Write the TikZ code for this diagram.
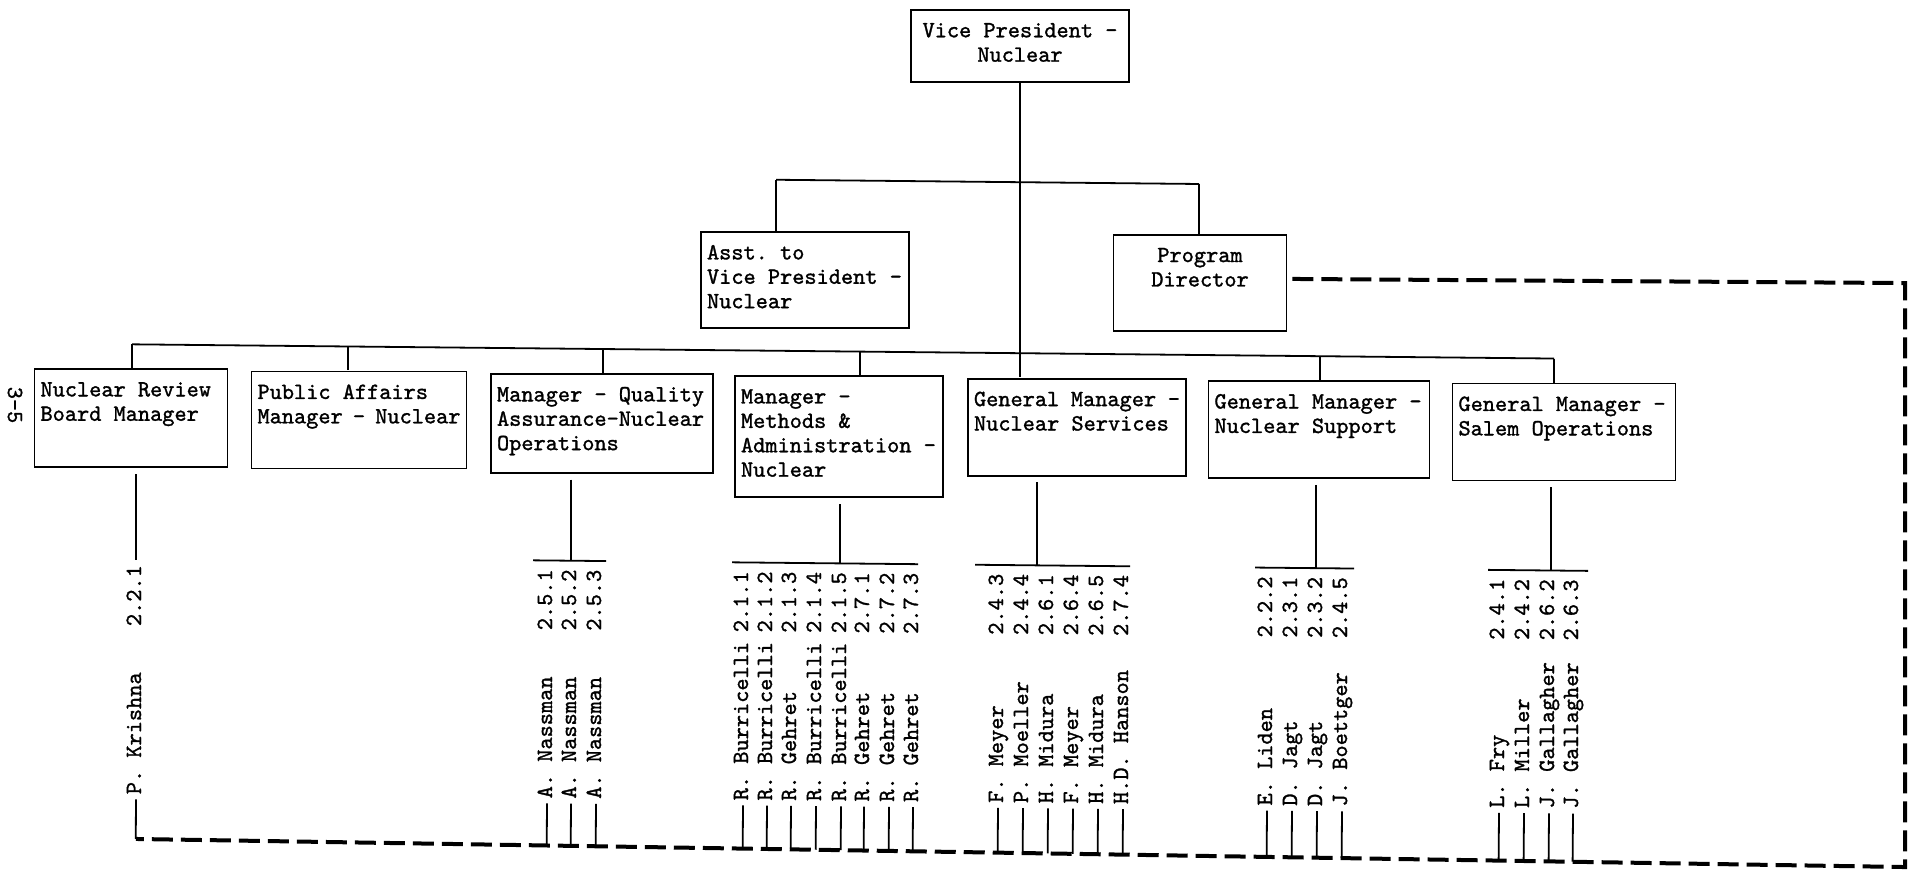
\documentclass[tikz,border=0pt]{standalone}
\usepackage{fontspec}
\usepackage{tikz}
\usetikzlibrary{positioning, calc}

\newfontfamily\typer{lmmono10-regular}[Extension=.otf, RawFeature={embolden=1.3}]
\def\unitfont{\fontsize{23.2}{24.4}\selectfont\typer}
\def\namelen{229pt}

\tikzset{
    unit/.style n args={3}{draw, line width=1.8pt, anchor=north,
        inner xsep=6pt, inner ysep=13pt, font=\unitfont,
        execute at begin node={\begin{minipage}[t][\dimexpr#2-26pt\relax][t]{\dimexpr#1-12pt\relax}#3},
        execute at end node={\end{minipage}}},
    entry/.style={rotate=90, anchor=west, inner xsep=5pt, inner ysep=0pt,
        text height=14pt, text depth=4pt, font=\unitfont},
    link/.style={line width=1.8pt},
    feed/.style={line width=4pt, dash pattern=on 21pt off 8pt},
}

\begin{document}
\begin{tikzpicture}[x=1pt, y=-1pt]
    \useasboundingbox (0,0) rectangle (1911,870);

    \node[font=\unitfont, rotate=-90, inner sep=0pt] (pg) at (15,405) {3-5};

    % the sheet is scanned a little askew
    \begin{scope}[yslant=-0.01]

    % top of the chart
    \node[unit={218pt}{72pt}{\centering}] (vp) at (1020,-1) {Vice~President~-\\Nuclear};
    \node[unit={208pt}{96pt}{\raggedright}] (asst) at (805,223) {Asst.~to\\Vice~President~-\\Nuclear};
    \node[unit={173pt}{96pt}{\centering}] (prog) at (1200,222) {Program\\Director};

    % second row
    \node[unit={193pt}{98pt}{\raggedright}] (nrb) at (131,367) {Nuclear~Review\\Board~Manager};
    \node[unit={215pt}{97pt}{\raggedright}] (pub) at (359,367) {Public~Affairs\\Manager~-~Nuclear};
    \node[unit={222pt}{99pt}{\raggedright}] (qa) at (602,367) {Manager~-~Quality\\Assurance-Nuclear\\Operations};
    \node[unit={208pt}{121pt}{\raggedright}] (meth) at (839,367) {Manager~-\\Methods~\&\\Administration~-\\Nuclear};
    \node[unit={218pt}{97pt}{\raggedright}] (nsv) at (1077,367) {General~Manager~-\\Nuclear~Services};
    \node[unit={221pt}{97pt}{\raggedright}] (nsp) at (1319,367) {General~Manager~-\\Nuclear~Support};
    \node[unit={223pt}{97pt}{\raggedright}] (sal) at (1564,367) {General~Manager~-\\Salem~Operations};

    % connections from the top
    \draw[link] (vp.south) -- (vp.south |- nsv.north);

    \coordinate (al) at (776,172);
    \coordinate (ar) at (1199,172);
    \draw[link] (al) -- (ar);
    \draw[link] (al) -- (al |- asst.north);
    \draw[link] (ar) -- (ar |- prog.north);

    \coordinate (bl) at (132,343);
    \coordinate (br) at (1554,343);
    \draw[link] (bl) -- (br);
    \foreach \b/\x in {nrb/132, pub/348, qa/603, meth/860, nsp/1320, sal/1554}
    {
        \coordinate (d\b) at (\x,343);
        \draw[link] (d\b) -- (d\b |- \b.north);
    }

    % dashed frame
    \coordinate (ne) at (1905,264);
    \coordinate (se) at (1905,848);
    \coordinate (sw) at (136,837.6);
    \draw[feed] ([shift={(5,-4)}]prog.east) -- (ne) -- (se) -- (sw);

    % brackets under the boxes
    \foreach \b/\x/\l/\r in {qa/571/533/606, meth/840/732/918, nsv/1037/975/1130,
                             nsp/1316/1255/1354, sal/1551/1488/1588}
    {
        \coordinate (\b-c) at (\x,555);
        \coordinate (\b-l) at (\l,555);
        \coordinate (\b-r) at (\r,555);
        \draw[link] (\b-l) -- (\b-r);
        \draw[link, shorten <=6pt] (\b.south -| \b-c) -- (\b-c);
    }

    % names and sections
    \foreach \g/\i/\x/\who/\sec in {
        nrb/1/136/P. Krishna/2.2.1,
        qa/1/547/A. Nassman/2.5.1,
        qa/2/571/A. Nassman/2.5.2,
        qa/3/596/A. Nassman/2.5.3,
        meth/1/743/R. Burricelli/2.1.1,
        meth/2/767/R. Burricelli/2.1.2,
        meth/3/791/R. Gehret/2.1.3,
        meth/4/816/R. Burricelli/2.1.4,
        meth/5/841/R. Burricelli/2.1.5,
        meth/6/864/R. Gehret/2.7.1,
        meth/7/889/R. Gehret/2.7.2,
        meth/8/913/R. Gehret/2.7.3,
        nsv/1/998/F. Meyer/2.4.3,
        nsv/2/1023/P. Moeller/2.4.4,
        nsv/3/1048/H. Midura/2.6.1,
        nsv/4/1073/F. Meyer/2.6.4,
        nsv/5/1098/H. Midura/2.6.5,
        nsv/6/1123/H.D. Hanson/2.7.4,
        nsp/1/1267/E. Liden/2.2.2,
        nsp/2/1292/D. Jagt/2.3.1,
        nsp/3/1317/D. Jagt/2.3.2,
        nsp/4/1342/J. Boettger/2.4.5,
        sal/1/1499/L. Fry/2.4.1,
        sal/2/1524/L. Miller/2.4.2,
        sal/3/1549/J. Gallagher/2.6.2,
        sal/4/1573/J. Gallagher/2.6.3}{

        \node[entry] (\g\i) at (\x,798) {\makebox[\namelen]{\who\hfill\sec}};
        \draw[link] (\g\i.west) -- ($(sw)!(\g\i.west)!(se)$);
    }
    \draw[link, shorten <=6pt] (nrb.south -| nrb1.east) -- (nrb1.east);

    \end{scope}
\end{tikzpicture}
\end{document}
